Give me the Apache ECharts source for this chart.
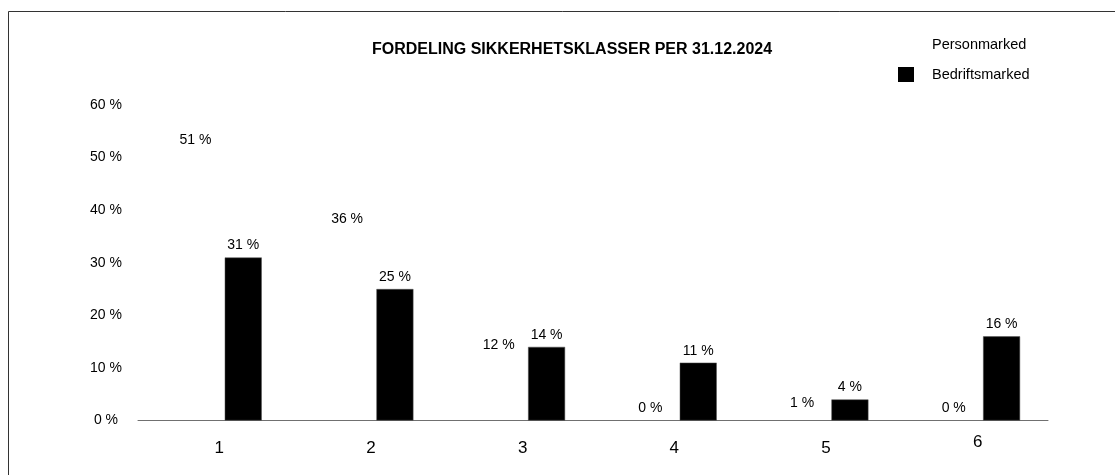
<!DOCTYPE html>
<html>
<head>
<meta charset="utf-8">
<script src="https://cdn.jsdelivr.net/npm/echarts@6/dist/echarts.min.js"></script>
<style>
    * { margin: 0; padding: 0; }
    body { background: #fff; }
    #chart { width: 1115px; height: 475px; }
</style>
</head>
<body>
<div id="chart"></div>
<script>
    // sikkerhetsklasser 1-6
    const categories = ['1', '2', '3', '4', '5', '6'];
    const personmarked = [51, 36, 12, 0, 1, 0];
    const bedriftsmarked = [31, 25, 14, 11, 4, 16];
    const yTicks = { min: 0, max: 60, interval: 10 };

    const font = "'Liberation Sans', Arial, sans-serif";
    const myChart = echarts.init(document.getElementById('chart'));

    // i originalen står etiketten "6" litt høyere enn de andre
    const xData = categories.map(function (c) {
        return {
            value: c,
            textStyle: { padding: c === '6' ? [0, 0, 0, 11] : [6, 0, 0, 11] }
        };
    });

    const option = {
        backgroundColor: '#fff',
        textStyle: { fontFamily: font, color: '#000' },
        // ramme rundt diagrammet
        graphic: [{
            type: 'rect',
            silent: true,
            shape: { x: 8.5, y: 11.5, width: 1300, height: 700 },
            style: { fill: 'none', stroke: '#333', lineWidth: 1 }
        }],
        title: {
            text: 'FORDELING SIKKERHETSKLASSER PER 31.12.2024',
            left: 372,
            top: 41.5,
            padding: 0,
            textStyle: { fontFamily: font, fontSize: 16, fontWeight: 'bold', color: '#000' }
        },
        legend: {
            orient: 'vertical',
            left: 898,
            top: 37,
            padding: 0,
            itemWidth: 16,
            itemHeight: 15,
            itemGap: 15,
            icon: 'rect',
            itemStyle: { borderWidth: 0 },
            textStyle: { fontFamily: font, fontSize: 14.5, color: '#000', padding: [0, 0, 0, 13] },
            data: ['Personmarked', 'Bedriftsmarked']
        },
        grid: { left: 138, right: 67, top: 105, bottom: 54.5, containLabel: false },
        xAxis: {
            type: 'category',
            data: xData,
            axisLine: { lineStyle: { color: '#707070', width: 1 } },
            axisTick: { show: false },
            axisLabel: {
                fontFamily: font,
                fontSize: 17,
                color: '#000',
                margin: 13
            }
        },
        yAxis: {
            type: 'value',
            min: yTicks.min,
            max: yTicks.max,
            interval: yTicks.interval,
            axisLine: { show: false },
            axisTick: { show: false },
            splitLine: { show: false },
            axisLabel: {
                formatter: '{value} %',
                align: 'center',
                margin: 32,
                fontFamily: font,
                fontSize: 14,
                color: '#000'
            }
        },
        series: [
            {
                name: 'Personmarked',
                type: 'bar',
                data: personmarked,
                barWidth: 37,
                barGap: '59%',
                itemStyle: { color: 'rgba(255,255,255,0)' },
                label: {
                    show: true,
                    position: 'top',
                    offset: [11, 0],
                    formatter: '{c} %',
                    fontFamily: font,
                    fontSize: 14,
                    color: '#000'
                }
            },
            {
                name: 'Bedriftsmarked',
                type: 'bar',
                data: bedriftsmarked,
                barWidth: 37,
                itemStyle: { color: '#000', borderColor: '#555', borderWidth: 0.5 },
                label: {
                    show: true,
                    position: 'top',
                    formatter: '{c} %',
                    fontFamily: font,
                    fontSize: 14,
                    color: '#000'
                }
            }
        ]
    };
    myChart.setOption(option);
</script>
</body>
</html>
